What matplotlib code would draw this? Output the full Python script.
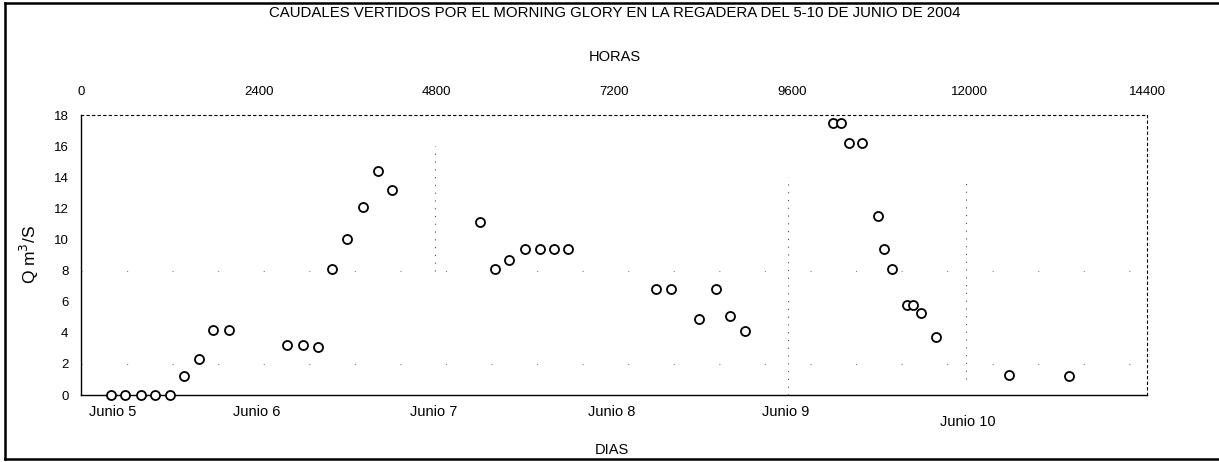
import matplotlib.pyplot as plt
from matplotlib.lines import Line2D

plt.rcParams["font.family"] = ["Liberation Sans", "DejaVu Sans"]

# flow readings (hours from start, Q in m3/s)
hours = [390, 590, 800, 990, 1190, 1380, 1580, 1780, 1990, 2780, 2990, 3190,
         3390, 3590, 3800, 4000, 4190, 5390, 5590, 5780, 5990, 6190, 6380, 6580,
         7770, 7970, 8350, 8570, 8770, 8960, 10160, 10260, 10370, 10550, 10760,
         10850, 10950, 11150, 11240, 11350, 11550, 12540, 13340]
caudal = [0, 0, 0, 0, 0, 1.2, 2.3, 4.2, 4.2, 3.2, 3.2, 3.1,
          8.1, 10.0, 12.1, 14.4, 13.2, 11.1, 8.1, 8.7, 9.4, 9.4, 9.4, 9.4,
          6.8, 6.8, 4.9, 6.8, 5.1, 4.1, 17.5, 17.5, 16.2, 16.2, 11.5,
          9.4, 8.1, 5.8, 5.8, 5.3, 3.7, 1.3, 1.2]

hour_ticks = [0, 2400, 4800, 7200, 9600, 12000, 14400]
y_ticks = [0, 2, 4, 6, 8, 10, 12, 14, 16, 18]
day_labels = ["Junio 5", "Junio 6", "Junio 7", "Junio 8", "Junio 9", "Junio 10"]
day_pos = [420, 2370, 4760, 7160, 9520, 11980]

fig = plt.figure(figsize=(12.19, 4.62), dpi=100)
ax = fig.add_axes([0.0664, 0.145, 0.8745, 0.606])

# faint remnants of grid lines
for xv, y0, y1 in [(4770, 8, 16), (9554, 0, 14), (11960, 1, 14)]:
    ax.plot([xv, xv], [y0, y1], color="black", lw=0.8,
            linestyle=(0, (1, 6)), alpha=0.7)
for yv in [2, 8]:
    ax.axhline(yv, color="black", lw=0.8, linestyle=(0, (1, 40)), alpha=0.5)

ax.plot(hours, caudal, linestyle="None", marker="o", ms=6.5, mfc="white",
        mec="black", mew=1.3, zorder=3, clip_on=False)

ax.set_xlim(-10, 14400)
ax.set_ylim(0, 18)
ax.set_yticks(y_ticks)
ax.tick_params(axis="y", length=0, labelsize=9.5, pad=9)
ax.set_ylabel("Q m$^3$/S", fontsize=12.5, labelpad=9)

ax.xaxis.tick_top()
ax.set_xticks(hour_ticks)
ax.tick_params(axis="x", length=0, labelsize=9.5, pad=12)

for s in ["left", "bottom"]:
    ax.spines[s].set_linewidth(1.0)
for s in ["top", "right"]:
    ax.spines[s].set_linewidth(0.8)
    ax.spines[s].set_linestyle((0, (2, 3)))

for lab, xv in zip(day_labels, day_pos):
    yoff = -0.095 if lab == "Junio 10" else -0.06
    ax.text(xv, yoff, lab, transform=ax.get_xaxis_transform(),
            ha="center", va="center", fontsize=10.5)

fig.text(0.502, 0.027, "DIAS", ha="center", va="center", fontsize=10.5)
fig.text(0.504, 0.877, "HORAS", ha="center", va="center", fontsize=10.5)
fig.text(0.504, 0.971, "CAUDALES VERTIDOS POR EL MORNING GLORY EN LA REGADERA DEL 5-10 DE JUNIO DE 2004",
         ha="center", va="center", fontsize=10.8)

# outer frame
for xs, ys in [([0.004, 0.004], [0.006, 0.994]),
               ([0.004, 1.0], [0.994, 0.994]),
               ([0.004, 1.0], [0.006, 0.006])]:
    fig.add_artist(Line2D(xs, ys, color="black", lw=1.8, transform=fig.transFigure))

fig.savefig("out.png", dpi=100)
